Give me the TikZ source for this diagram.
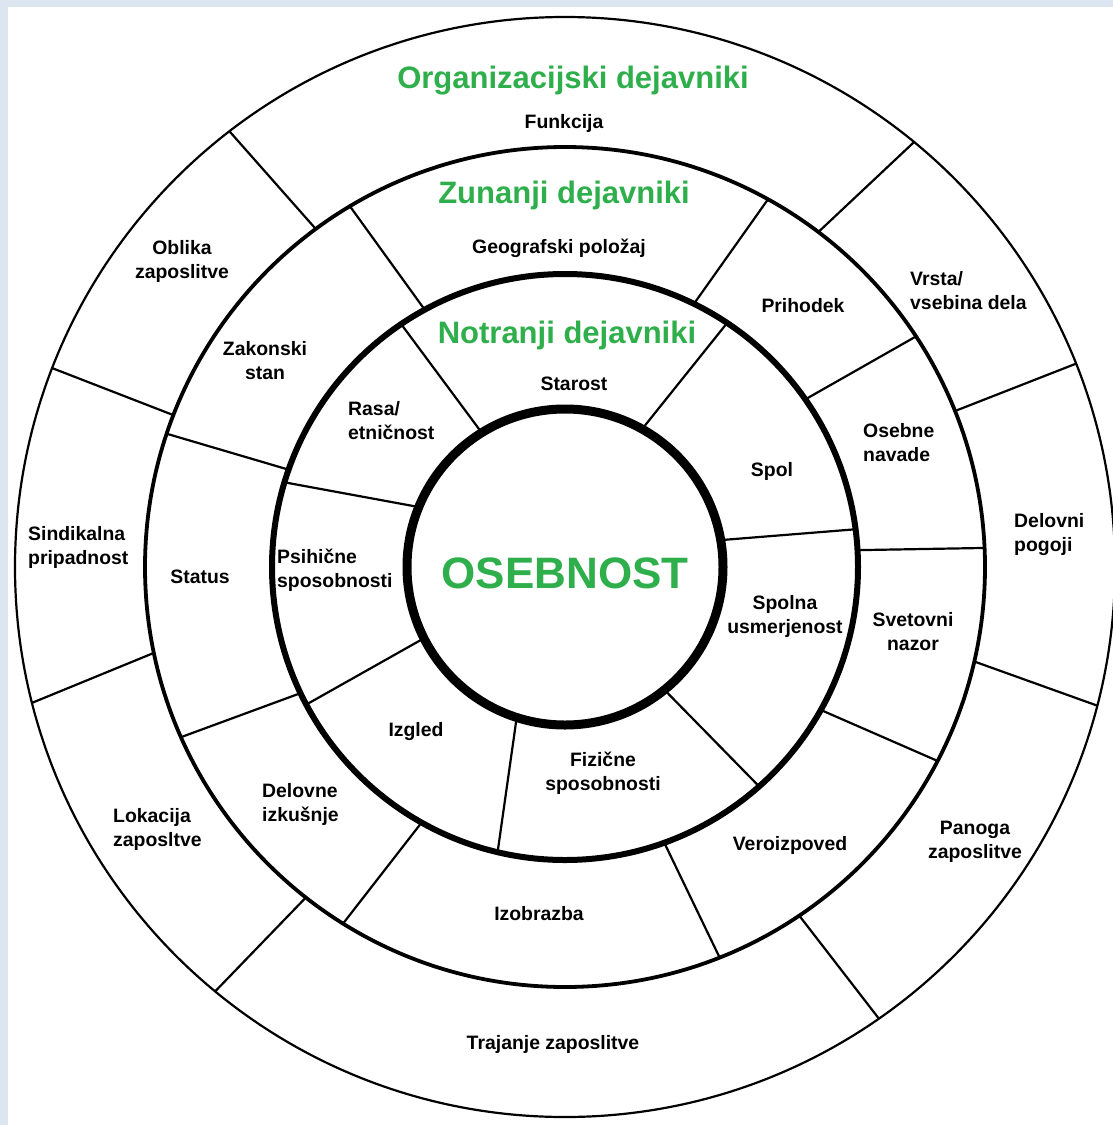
\documentclass[tikz,border=0pt]{standalone}
\usepackage{fontspec}
\setmainfont{Liberation Sans}
\definecolor{hgreen}{RGB}{46,175,75}
\definecolor{band}{RGB}{220,230,241}
\newcommand{\dv}[4]{\draw[divider] (#1:#3) -- (#2:#4);}
\begin{document}
\begin{tikzpicture}[x=1pt,y=-1pt,
  divider/.style={draw=black, line width=2.2pt},
  lab/.style={font=\fontsize{19.4}{24}\selectfont\bfseries, inner sep=0pt, text=black},
  labl/.style={lab, align=left, anchor=north west},
  labc/.style={lab, align=center, anchor=north},
  lab1/.style={lab, anchor=base},
  head/.style={font=\fontsize{31}{36}\selectfont\bfseries, inner sep=0pt, text=hgreen, anchor=base},
]
\useasboundingbox (0,0) rectangle (1113,1125);
\fill[band] (0,0) rectangle (1113,1125);
\fill[white] (8,7) rectangle (1113,1125);

\begin{scope}[shift={(565,567)}]
  % rings
  \draw[line width=2.2pt] (0,0) circle[radius=550pt];
  \draw[line width=3.8pt] (0,0) circle[radius=420pt];
  \draw[line width=6pt] (0,0) circle[radius=293pt];
  \draw[line width=9pt] (0,0) circle[radius=158pt];
  % inner ring dividers
  \dv{-121.8}{-124}{158}{293}
  \dv{-60.8}{-56.4}{158}{293}
  \dv{-9.8}{-7.4}{158}{293}
  \dv{51}{48.5}{158}{293}
  \dv{107.8}{103.3}{158}{293}
  \dv{-206.8}{-208}{158}{293}
  \dv{-157.7}{-163.2}{158}{293}
  % middle ring dividers
  \dv{-118.6}{-120.8}{293}{420}
  \dv{-63.9}{-61.1}{293}{420}
  \dv{-34.9}{-33.3}{293}{420}
  \dv{-3.3}{-2.6}{293}{420}
  \dv{29.2}{27.5}{293}{420}
  \dv{70.2}{68.4}{293}{420}
  \dv{119.3}{121.9}{293}{420}
  \dv{-205.5}{-203.9}{293}{420}
  \dv{-160.6}{-161.5}{293}{420}
  % outer ring dividers
  \dv{-126.4}{-127.6}{420}{550}
  \dv{-52.9}{-50.6}{420}{550}
  \dv{-21.8}{-21.7}{420}{550}
  \dv{13}{14.6}{420}{550}
  \dv{56.1}{55.2}{420}{550}
  \dv{128.1}{129.5}{420}{550}
  \dv{-191.8}{-194.3}{420}{550}
  \dv{-158.8}{-158.8}{420}{550}
\end{scope}

% headings
\node[head] (org) at (573,88) {Organizacijski dejavniki};
\node[head] (zun) at (564,203) {Zunanji dejavniki};
\node[head] (not) at (567,343) {Notranji dejavniki};
\node[head, font=\fontsize{44}{50}\selectfont\bfseries] (os) at (565,588) {OSEBNOST};

% single-line labels
\node[lab1] (funk) at (564,128) {Funkcija};
\node[lab1] (geo) at (559,253) {Geografski položaj};
\node[lab1] (star) at (574,390) {Starost};
\node[lab1] (spol) at (772,476) {Spol};
\node[lab1] (prih) at (803,312) {Prihodek};
\node[lab1] (stat) at (200,583) {Status};
\node[lab1] (izg) at (416,736) {Izgled};
\node[lab1] (ver) at (790,850) {Veroizpoved};
\node[lab1] (izo) at (539,920) {Izobrazba};
\node[lab1] (traj) at (553,1049) {Trajanje zaposlitve};

% multi-line labels
\node[labc] (obl) at (182,237.2) {\strut Oblika\\\strut zaposlitve};
\node[labl] (vrs) at (910,268.2) {\strut Vrsta/\\\strut vsebina dela};
\node[labc] (zak) at (265,338.2) {\strut Zakonski\\\strut stan};
\node[labl] (ras) at (348,398.2) {\strut Rasa/\\\strut etničnost};
\node[labl] (oseb) at (863,420.2) {\strut Osebne\\\strut navade};
\node[labl] (sind) at (28,523.2) {\strut Sindikalna\\\strut pripadnost};
\node[labl] (delp) at (1014,510.2) {\strut Delovni\\\strut pogoji};
\node[labl] (psih) at (277,546.2) {\strut Psihične\\\strut sposobnosti};
\node[labc] (spoln) at (785,592.2) {\strut Spolna\\\strut usmerjenost};
\node[labc] (svet) at (913,609.2) {\strut Svetovni\\\strut nazor};
\node[labc] (fiz) at (603,749.2) {\strut Fizične\\\strut sposobnosti};
\node[labl] (deli) at (262,780.9) {\strut Delovne\\\strut izkušnje};
\node[labl] (lok) at (113,805.2) {\strut Lokacija\\\strut zaposltve};
\node[labc] (pan) at (975,817.2) {\strut Panoga\\\strut zaposlitve};
\end{tikzpicture}
\end{document}
